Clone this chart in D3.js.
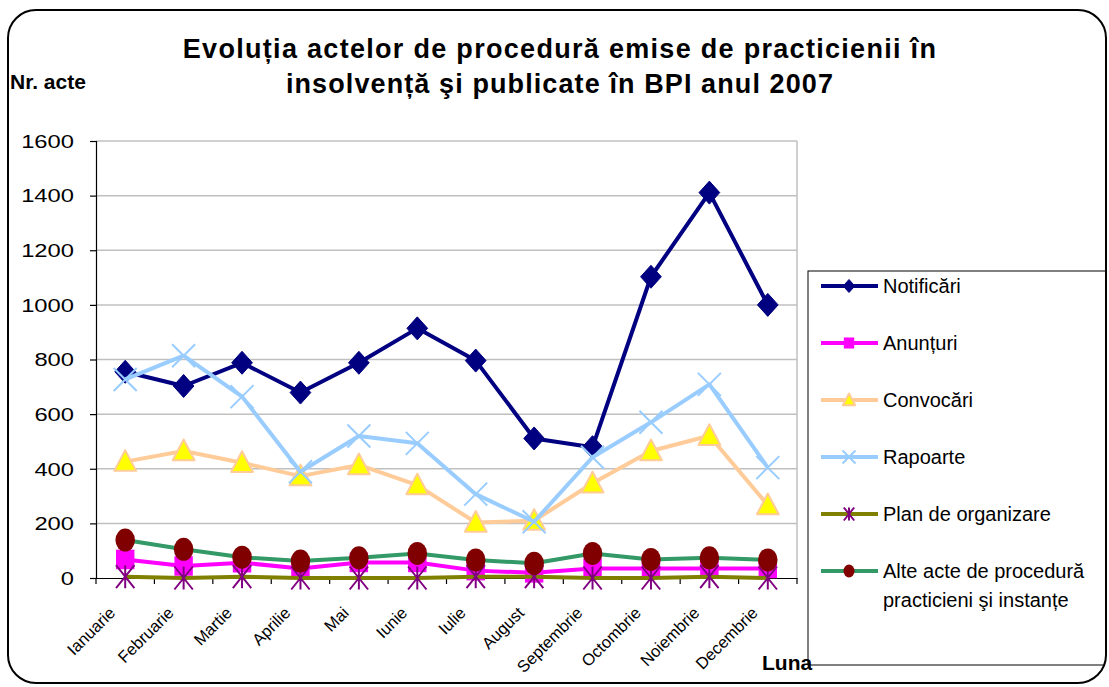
<!DOCTYPE html>
<html>
<head>
<meta charset="UTF-8">
<title>Evoluția actelor de procedură 2007</title>
<style>
    body { margin: 0; background: #fff; }
    svg { display: block; font-family: "Liberation Sans", Arial, sans-serif; }
</style>
</head>
<body>
<svg id="chart" width="1109" height="687"></svg>
<script src="https://d3js.org/d3.v7.min.js"></script>
<script>

// data
let months = ["Ianuarie", "Februarie", "Martie", "Aprilie", "Mai", "Iunie", "Iulie",
              "August", "Septembrie", "Octombrie", "Noiembrie", "Decembrie"];
let notificari = [755, 703, 788, 679, 788, 914, 796, 511, 479, 1103, 1411, 1000];
let anunturi   = [68, 44, 56, 35, 57, 57, 27, 19, 35, 35, 35, 35];
let convocari  = [426, 465, 422, 373, 414, 340, 203, 210, 347, 465, 521, 267];
let rapoarte   = [727, 814, 664, 389, 520, 493, 307, 206, 442, 570, 709, 404];
let planOrg    = [5, 0, 5, 0, 0, 0, 5, 5, 0, 0, 5, 0];
let alteActe   = [139, 105, 76, 62, 74, 90, 66, 54, 90, 68, 74, 66];
let yTicks = [0, 200, 400, 600, 800, 1000, 1200, 1400, 1600];

let series = [
    {name: "Notificări", values: notificari, line: "#000080", marker: "diamond", fill: "#000080", stroke: "#000080"},
    {name: "Anunțuri", values: anunturi, line: "#FF00FF", marker: "square", fill: "#FF00FF", stroke: "#FF00FF"},
    {name: "Convocări", values: convocari, line: "#FFCC99", marker: "triangle", fill: "#FFFF00", stroke: "#FFCC99"},
    {name: "Rapoarte", values: rapoarte, line: "#99CCFF", marker: "x", fill: "none", stroke: "#99CCFF"},
    {name: "Plan de organizare", values: planOrg, line: "#808000", marker: "star", fill: "none", stroke: "#800080"},
    {name: ["Alte acte de procedură", "practicieni şi instanțe"], values: alteActe, line: "#339966", marker: "circle", fill: "#800000", stroke: "#800000"}
];

let svg = d3.select("#chart");

let x = d3.scaleBand().domain(months).range([96, 797]);
let y = d3.scaleLinear().domain([0, 1600]).range([578, 141]);

// gridlines
svg.append("g")
    .selectAll("line")
    .data(yTicks.filter(d => d > 0))
    .enter().append("line")
    .attr("x1", 96).attr("x2", 797)
    .attr("y1", d => y(d)).attr("y2", d => y(d))
    .attr("stroke", "#c0c0c0")
    .attr("stroke-width", 1.5);

svg.append("line")
    .attr("x1", 797).attr("x2", 797)
    .attr("y1", y(1600)).attr("y2", y(0))
    .attr("stroke", "#c0c0c0")
    .attr("stroke-width", 1.5);

// y axis
let yAxis = svg.append("g")
    .attr("transform", "translate(96,0)")
    .call(d3.axisLeft(y).tickValues(yTicks).tickSize(6).tickFormat(""));
yAxis.selectAll("line, path").attr("stroke", "#000").attr("stroke-width", 1.2);

// the reference numbers look stretched sideways, hence the scale
svg.append("g")
    .selectAll("text")
    .data(yTicks)
    .enter().append("text")
    .attr("transform", d => "translate(74," + y(d) + ") scale(1.25,1)")
    .attr("text-anchor", "end")
    .attr("dy", "0.36em")
    .attr("font-size", 19)
    .text(d => d);

// x axis with ticks between categories
let xAxis = svg.append("g")
    .attr("transform", "translate(0,578)")
    .call(d3.axisBottom(x).tickSize(0).tickFormat(""));
xAxis.select(".domain").attr("stroke", "#000").attr("stroke-width", 1.2);
xAxis.selectAll(".tick").remove();

svg.append("g")
    .selectAll("line")
    .data(months.map(m => x(m)).concat([x.range()[1]]))
    .enter().append("line")
    .attr("x1", d => d).attr("x2", d => d)
    .attr("y1", 578).attr("y2", 584)
    .attr("stroke", "#000")
    .attr("stroke-width", 1.2);

svg.append("g")
    .selectAll("text")
    .data(months)
    .enter().append("text")
    .attr("transform", d => "translate(" + (x(d) + x.bandwidth() / 2 - 9) + ",614) rotate(-45)")
    .attr("text-anchor", "end")
    .attr("font-size", 16.5)
    .text(d => d);

// markers
function drawMarker(g, type, s, fill, stroke) {
    if (type == "diamond") {
        g.append("path").attr("d", `M0,${-s}L${s * 0.9},0L0,${s}L${-s * 0.9},0Z`)
            .attr("fill", fill).attr("stroke", stroke);
    } else if (type == "square") {
        g.append("rect").attr("x", -s * 0.8).attr("y", -s * 0.85)
            .attr("width", s * 1.6).attr("height", s * 1.7)
            .attr("fill", fill);
    } else if (type == "triangle") {
        g.append("path").attr("d", `M0,${-s}L${s * 0.95},${s * 0.8}L${-s * 0.95},${s * 0.8}Z`)
            .attr("fill", fill).attr("stroke", stroke).attr("stroke-width", 2)
            .attr("stroke-linejoin", "round");
    } else if (type == "x") {
        g.append("path").attr("d", `M${-s},${-s}L${s},${s}M${-s},${s}L${s},${-s}`)
            .attr("stroke", stroke).attr("stroke-width", 2);
    } else if (type == "star") {
        g.append("path").attr("d", `M${-s * 0.8},${-s}L${s * 0.8},${s}M${-s * 0.8},${s}L${s * 0.8},${-s}M0,${-s}L0,${s}`)
            .attr("stroke", stroke).attr("stroke-width", 2);
    } else if (type == "circle") {
        g.append("ellipse").attr("rx", s * 0.85).attr("ry", s)
            .attr("fill", fill);
    }
}

let line = d3.line()
    .x((d, i) => x(months[i]) + x.bandwidth() / 2)
    .y(d => y(d));

series.forEach(s => {
    let g = svg.append("g");
    g.append("path")
        .datum(s.values)
        .attr("d", line)
        .attr("fill", "none")
        .attr("stroke", s.line)
        .attr("stroke-width", 4)
        .attr("stroke-linejoin", "round");
    s.values.forEach((v, i) => {
        let m = g.append("g")
            .attr("transform", "translate(" + (x(months[i]) + x.bandwidth() / 2) + "," + y(v) + ")");
        drawMarker(m, s.marker, 11.5, s.fill, s.stroke);
    });
});

// legend
let legend = svg.append("g");
legend.append("rect")
    .attr("x", 808).attr("y", 271)
    .attr("width", 320).attr("height", 394)
    .attr("fill", "#fff")
    .attr("stroke", "#000")
    .attr("stroke-width", 1);

series.forEach((s, i) => {
    let cy = 286 + i * 57;
    let row = legend.append("g");
    row.append("line")
        .attr("x1", 821).attr("x2", 878)
        .attr("y1", cy).attr("y2", cy)
        .attr("stroke", s.line)
        .attr("stroke-width", 4);
    let m = row.append("g").attr("transform", "translate(849," + cy + ")");
    drawMarker(m, s.marker, 6.5, s.fill, s.stroke);
    let names = Array.isArray(s.name) ? s.name : [s.name];
    names.forEach((n, k) => {
        row.append("text")
            .attr("x", 883)
            .attr("y", cy + k * 29)
            .attr("dy", "0.36em")
            .attr("font-size", 20)
            .text(n);
    });
});

// titles
svg.append("text")
    .attr("x", 560).attr("y", 58)
    .attr("text-anchor", "middle")
    .attr("font-size", 27)
    .attr("font-weight", "bold")
    .attr("letter-spacing", 1.3)
    .text("Evoluția actelor de procedură emise de practicienii în");
svg.append("text")
    .attr("x", 560).attr("y", 93)
    .attr("text-anchor", "middle")
    .attr("font-size", 27)
    .attr("font-weight", "bold")
    .attr("letter-spacing", 1.1)
    .text("insolvență şi publicate în BPI anul 2007");

svg.append("text")
    .attr("x", 10).attr("y", 89)
    .attr("font-size", 21)
    .attr("font-weight", "bold")
    .text("Nr. acte");

svg.append("text")
    .attr("x", 762).attr("y", 670)
    .attr("font-size", 21)
    .attr("font-weight", "bold")
    .text("Luna");

// outer rounded frame, on top so the legend is cut by it
svg.append("path")
    .attr("d", "M1109,0H0V687H1109Z M36,10H1078A28,28 0 0 1 1106,38V655A28,28 0 0 1 1078,683H36A28,28 0 0 1 8,655V38A28,28 0 0 1 36,10Z")
    .attr("fill", "#fff")
    .attr("fill-rule", "evenodd");
svg.append("rect")
    .attr("x", 8).attr("y", 10)
    .attr("width", 1098).attr("height", 673)
    .attr("rx", 28)
    .attr("fill", "none")
    .attr("stroke", "#000")
    .attr("stroke-width", 2);

</script>
</body>
</html>
